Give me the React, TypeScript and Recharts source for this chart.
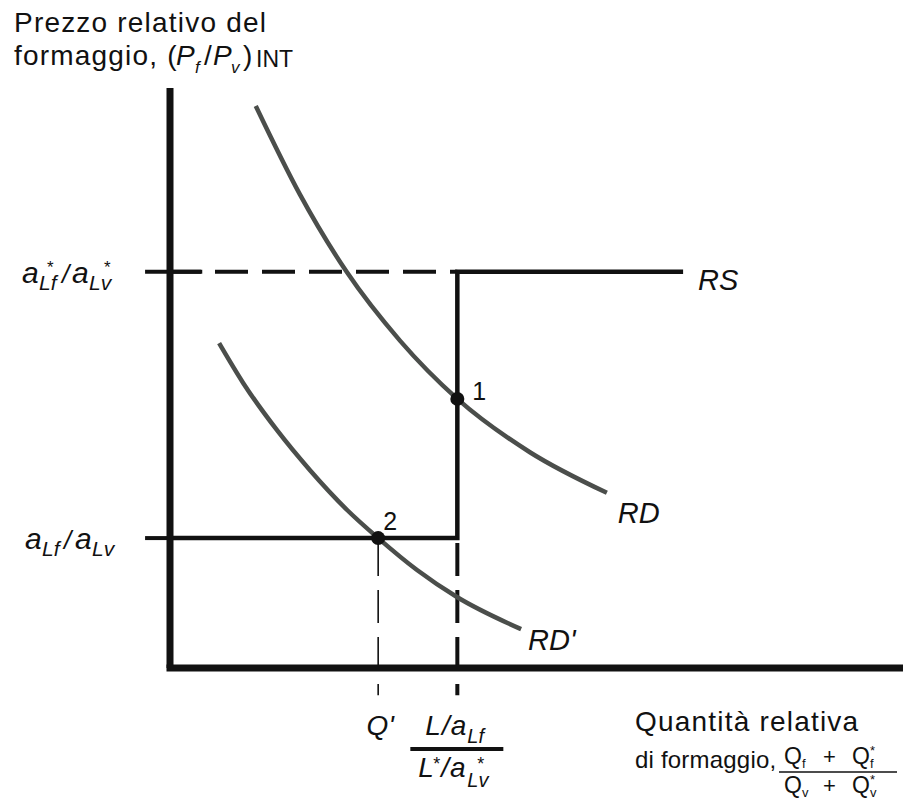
import React from "react";
import { LineChart, Line, XAxis, YAxis, ReferenceLine, ReferenceDot } from "recharts";

// everything in 0-100 units: x = quantità relativa, y = prezzo relativo
const rdX = [11.7, 17.7, 24.1, 31.4, 39.2, 49.1, 59.6];
const rdY = [96.9, 81.7, 68.3, 56.4, 46.4, 37.2, 30.2];
const rdPrimeX = [6.7, 10.0, 14.6, 19.1, 24.2, 28.4, 33.7, 39.2, 47.9];
const rdPrimeY = [56.0, 49.1, 41.0, 34.1, 27.2, 22.4, 16.9, 12.2, 6.7];

const qPrime = 28.4; // Q'
const qTrade = 39.2; // (L/aLf)/(L*/a*Lv)
const rsEnd = 70;
const priceHigh = 68.3; // a*Lf/a*Lv
const priceLow = 22.4; // aLf/aLv
const eq1 = { x: 39.2, y: 46.4 };
const eq2 = { x: 28.4, y: 22.4 };
const stubLeft = -3.4; // price lines run a bit left of the axis
const stubRight = 4.4;
const dropTo = -4.7; // dashed drop lines go below the axis

const xTicks = [qPrime, qTrade];
const yTicks = [priceLow, priceHigh];

const rsX = [0, qTrade, qTrade, rsEnd];
const rsY = [priceLow, priceLow, priceHigh, priceHigh];

const rd = rdX.map((x, i) => ({ x, y: rdY[i] }));
const rdPrime = rdPrimeX.map((x, i) => ({ x, y: rdPrimeY[i] }));
const rs = rsX.map((x, i) => ({ x, y: rsY[i] }));

const FONT = "'Liberation Sans', Arial, Helvetica, sans-serif";
const INK = "#111";
const CURVE = "#4b4e4b";
const W = 903;
const H = 803;
const PLOT_BOTTOM = 668;

const txt = { fontFamily: FONT, fill: INK } as const;

const textAt =
  (text: string, dx: number, dy: number, size = 29, italic = true) =>
  ({ viewBox }: any) => {
    const cx = viewBox.x + viewBox.width / 2;
    const cy = viewBox.y + viewBox.height / 2;
    return (
      <text x={cx + dx} y={cy + dy} {...txt} fontSize={size} fontStyle={italic ? "italic" : "normal"}>
        {text}
      </text>
    );
  };

const YTick = ({ y, payload }: any) => {
  const b = y + 11;
  if (payload.value === priceHigh) {
    return (
      <g fontStyle="italic">
        <text x={22} y={b} fontSize={30} {...txt}>a</text>
        <text x={39} y={b + 7} fontSize={21} {...txt}>Lf</text>
        <text x={47} y={b - 10} fontSize={17} {...txt} fontStyle="normal">*</text>
        <text x={62} y={b} fontSize={26} {...txt}>/</text>
        <text x={72} y={b} fontSize={30} {...txt}>a</text>
        <text x={89} y={b + 7} fontSize={21} {...txt}>Lv</text>
        <text x={104} y={b - 10} fontSize={17} {...txt} fontStyle="normal">*</text>
      </g>
    );
  }
  return (
    <g fontStyle="italic">
      <text x={25} y={b} fontSize={30} {...txt}>a</text>
      <text x={42} y={b + 7} fontSize={21} {...txt}>Lf</text>
      <text x={64} y={b} fontSize={26} {...txt}>/</text>
      <text x={75} y={b} fontSize={30} {...txt}>a</text>
      <text x={92} y={b + 7} fontSize={21} {...txt}>Lv</text>
    </g>
  );
};

const XTick = ({ x, payload }: any) => {
  const b = PLOT_BOTTOM + 67;
  if (payload.value === qPrime) {
    return (
      <text x={x + 2} y={b} textAnchor="middle" fontSize={28} fontStyle="italic" {...txt}>
        Q'
      </text>
    );
  }
  return (
    <g fontStyle="italic">
      <text x={x - 32} y={b} fontSize={28} letterSpacing={1} {...txt}>L/a</text>
      <text x={x + 10} y={b + 8} fontSize={20} {...txt}>Lf</text>
      <line x1={x - 47} x2={x + 46} y1={b + 14} y2={b + 14} stroke={INK} strokeWidth={4} />
      <text x={x - 39} y={b + 42} fontSize={28} {...txt}>L</text>
      <text x={x - 24} y={b + 35} fontSize={18} {...txt} fontStyle="normal">*</text>
      <text x={x - 16} y={b + 42} fontSize={28} letterSpacing={1} {...txt}>/a</text>
      <text x={x + 10} y={b + 52} fontSize={20} {...txt}>Lv</text>
      <text x={x + 20} y={b + 35} fontSize={18} {...txt} fontStyle="normal">*</text>
    </g>
  );
};

// small stacked fraction after "di formaggio,"
const QFrac = ({ sub, y }: { sub: string; y: number }) => (
  <g letterSpacing={0}>
    <text x={784} y={y} fontSize={23} {...txt}>Q</text>
    <text x={802} y={y + 4} fontSize={13} {...txt}>{sub}</text>
    <text x={823} y={y} fontSize={22} {...txt}>+</text>
    <text x={852} y={y} fontSize={23} {...txt}>Q</text>
    <text x={870} y={y + 4} fontSize={13} {...txt}>{sub}</text>
    <text x={870} y={y - 9} fontSize={13} {...txt}>*</text>
  </g>
);

const Titles = () => (
  <svg width={W} height={H} style={{ position: "absolute", left: 0, top: 0, pointerEvents: "none" }}>
    <g fontSize={28} letterSpacing={1.2}>
      <text x={14} y={32} {...txt}>Prezzo relativo del</text>
      <text x={14} y={65} {...txt}>formaggio, (</text>
      <text x={176} y={65} {...txt} fontStyle="italic">P</text>
      <text x={195} y={73} {...txt} fontSize={17} fontStyle="italic">f</text>
      <text x={204} y={65} {...txt}>/</text>
      <text x={213} y={65} {...txt} fontStyle="italic">P</text>
      <text x={231} y={73} {...txt} fontSize={17} fontStyle="italic">v</text>
      <text x={243} y={65} {...txt}>)</text>
      <text x={256} y={67} {...txt} fontSize={23} letterSpacing={0}>INT</text>

      <text x={635} y={731} {...txt}>Quantità relativa</text>
      <text x={635} y={768} {...txt} fontSize={24} letterSpacing={0.2}>di formaggio,</text>
      <QFrac sub="f" y={764} />
      <line x1={779} x2={897} y1={772} y2={772} stroke={INK} strokeWidth={1.5} />
      <QFrac sub="v" y={793} />
    </g>
  </svg>
);

export default function App() {
  const lastRd = rd[rd.length - 1];
  const lastRdPrime = rdPrime[rdPrime.length - 1];
  return (
    <div style={{ position: "absolute", left: 0, top: 0, width: W, height: H, background: "#fff" }}>
      <LineChart width={W} height={H} margin={{ top: 88, right: 0, bottom: 75, left: 20 }}>
        <XAxis
          type="number"
          dataKey="x"
          domain={[0, 100]}
          ticks={xTicks}
          interval={0}
          height={60}
          tickLine={false}
          axisLine={{ stroke: INK, strokeWidth: 7, strokeLinecap: "square" }}
          tick={XTick}
        />
        <YAxis
          type="number"
          dataKey="y"
          domain={[0, 100]}
          ticks={yTicks}
          interval={0}
          width={150}
          tickLine={false}
          axisLine={{ stroke: INK, strokeWidth: 7 }}
          tick={YTick}
        />

        {/* price level stubs left of the axis */}
        <ReferenceLine
          segment={[{ x: stubLeft, y: priceHigh }, { x: stubRight, y: priceHigh }]}
          ifOverflow="visible"
          stroke={INK}
          strokeWidth={4}
        />
        <ReferenceLine
          segment={[{ x: 0, y: priceHigh }, { x: qTrade, y: priceHigh }]}
          ifOverflow="visible"
          stroke={INK}
          strokeWidth={4}
          strokeDasharray="33 14"
          strokeDashoffset={2}
        />
        <ReferenceLine
          segment={[{ x: stubLeft, y: priceLow }, { x: 0, y: priceLow }]}
          ifOverflow="visible"
          stroke={INK}
          strokeWidth={4}
        />
        {/* drop lines */}
        <ReferenceLine
          segment={[{ x: qTrade, y: priceLow }, { x: qTrade, y: dropTo }]}
          ifOverflow="visible"
          stroke={INK}
          strokeWidth={4}
          strokeDasharray="0 5 33 9"
        />
        <ReferenceLine
          segment={[{ x: qPrime, y: priceLow }, { x: qPrime, y: dropTo }]}
          ifOverflow="visible"
          stroke={INK}
          strokeWidth={1.6}
          strokeDasharray="0 5 33 9"
        />

        <Line
          data={rd}
          dataKey="y"
          type="monotone"
          stroke={CURVE}
          strokeWidth={4.5}
          dot={false}
          activeDot={false}
          isAnimationActive={false}
        />
        <Line
          data={rdPrime}
          dataKey="y"
          type="monotone"
          stroke={CURVE}
          strokeWidth={4.5}
          dot={false}
          activeDot={false}
          isAnimationActive={false}
        />
        <Line
          data={rs}
          dataKey="y"
          type="linear"
          stroke={INK}
          strokeWidth={4.5}
          strokeLinejoin="miter"
          dot={false}
          activeDot={false}
          isAnimationActive={false}
        />

        <ReferenceDot x={eq1.x} y={eq1.y} r={7} fill={INK} stroke="none" label={{ content: textAt("1", 15, 1, 25, false) }} />
        <ReferenceDot x={eq2.x} y={eq2.y} r={7} fill={INK} stroke="none" label={{ content: textAt("2", 5, -8, 25, false) }} />
        <ReferenceDot x={rsEnd} y={priceHigh} r={0} fill="none" stroke="none" label={{ content: textAt("RS", 15, 18) }} />
        <ReferenceDot x={lastRd.x} y={lastRd.y} r={0} fill="none" stroke="none" label={{ content: textAt("RD", 11, 30) }} />
        <ReferenceDot x={lastRdPrime.x} y={lastRdPrime.y} r={0} fill="none" stroke="none" label={{ content: textAt("RD'", 7, 21) }} />
      </LineChart>
      <Titles />
    </div>
  );
}
